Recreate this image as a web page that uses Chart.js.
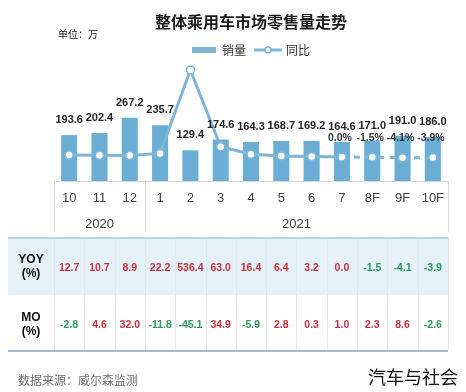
<!DOCTYPE html>
<html>
<head>
<meta charset="utf-8">
<script src="https://cdn.jsdelivr.net/npm/chart.js@4"></script>
<style>
  body { margin: 0; background: #fff; }
  #wrap { width: 466px; height: 392px; position: relative; }
</style>
</head>
<body>
<div id="wrap"><canvas id="myChart"></canvas></div>
<script>
// chart data
const months = ['10', '11', '12', '1', '2', '3', '4', '5', '6', '7', '8F', '9F', '10F'];
const sales = [193.6, 202.4, 267.2, 235.7, 129.4, 174.6, 164.3, 168.7, 169.2, 164.6, 171.0, 191.0, 186.0];
const yoy = [12.7, 10.7, 8.9, 22.2, 536.4, 63.0, 16.4, 6.4, 3.2, 0.0, -1.5, -4.1, -3.9];
const mom = [-2.8, 4.6, 32.0, -11.8, -45.1, 34.9, -5.9, 2.8, 0.3, 1.0, 2.3, 8.6, -2.6];
const yearLabels = ['2020', '2021'];
const yearFirst = [0, 3];
const yearLast = [2, 12];
const forecastFrom = 9; // line goes dashed after month 7
const pctLabelFrom = 9;

const barColor = '#6aaed6';
const lineColor = '#7db6d6';
const cjk = '"Noto Sans CJK SC", sans-serif';
const latin = '"Liberation Sans", Arial, sans-serif';

// small picture for the line legend item (line with a dot)
const lineIcon = document.createElement('canvas');
lineIcon.width = 28; lineIcon.height = 10;
(function () {
    const c = lineIcon.getContext('2d');
    c.strokeStyle = lineColor; c.lineWidth = 3;
    c.beginPath(); c.moveTo(0, 5); c.lineTo(28, 5); c.stroke();
    c.fillStyle = '#fff'; c.lineWidth = 1.5;
    c.beginPath(); c.arc(14, 5, 3, 0, Math.PI * 2); c.fill(); c.stroke();
})();

// keep the legend from eating too much height
const legendFit = {
    id: 'legendFit',
    afterInit(chart) {
        const fit = chart.legend.fit;
        chart.legend.fit = function () {
            fit.call(this);
            this.height = 24;
        };
    }
};

const extras = {
    id: 'extras',
    afterDraw(chart) {
        const ctx = chart.ctx;
        const x = chart.scales.x;
        const area = chart.chartArea;
        const step = x.getPixelForValue(1) - x.getPixelForValue(0);
        ctx.save();

        // title + unit
        ctx.textAlign = 'center';
        ctx.textBaseline = 'middle';
        ctx.fillStyle = '#1a1a1a';
        ctx.font = 'bold 16px ' + cjk;
        ctx.fillText('整体乘用车市场零售量走势', 251, 22);
        ctx.textAlign = 'left';
        ctx.font = '10px ' + cjk;
        ctx.fillText('单位：万', 58, 34);

        // bar value labels
        ctx.textAlign = 'center';
        ctx.font = 'bold 11px ' + latin;
        ctx.fillStyle = '#222';
        chart.getDatasetMeta(0).data.forEach((el, i) => {
            ctx.fillText(sales[i].toFixed(1), el.x, el.y - 15);
        });
        // yoy labels on the last points
        ctx.font = 'bold 10.5px ' + latin;
        ctx.fillStyle = '#333';
        chart.getDatasetMeta(1).data.forEach((el, i) => {
            if (i >= pctLabelFrom) ctx.fillText(yoy[i].toFixed(1) + '%', el.x - 2, 138);
        });

        // category axis box
        ctx.strokeStyle = '#d9d9d9';
        ctx.lineWidth = 1;
        ctx.beginPath();
        ctx.moveTo(area.left, area.bottom + 0.5);
        ctx.lineTo(area.right, area.bottom + 0.5);
        const bounds = [area.left, area.right];
        yearLast.forEach(i => bounds.push(x.getPixelForValue(i) + step / 2));
        bounds.forEach(b => {
            ctx.moveTo(Math.round(b) + 0.5, area.bottom);
            ctx.lineTo(Math.round(b) + 0.5, 232);
        });
        ctx.stroke();

        ctx.fillStyle = '#404040';
        ctx.font = '13px ' + latin;
        months.forEach((m, i) => ctx.fillText(m, x.getPixelForValue(i), 198));
        yearLabels.forEach((y, k) => {
            const cx = (x.getPixelForValue(yearFirst[k]) + x.getPixelForValue(yearLast[k])) / 2;
            ctx.fillText(y, cx, 224);
        });

        // data table
        const tLeft = 8;
        ctx.fillStyle = '#e4f1f8';
        ctx.fillRect(tLeft, 238, area.right - tLeft, 57);
        ctx.strokeStyle = '#e2e8ec';
        ctx.beginPath();
        ctx.moveTo(area.left + 0.5, 238);
        ctx.lineTo(area.left + 0.5, 350);
        months.forEach((m, i) => {
            const b = Math.round(x.getPixelForValue(i) + step / 2) + 0.5;
            ctx.moveTo(b, 238);
            ctx.lineTo(b, 350);
        });
        ctx.stroke();
        ctx.strokeStyle = '#b3d6e6';
        ctx.lineWidth = 2;
        ctx.beginPath();
        ctx.moveTo(tLeft, 238); ctx.lineTo(area.right, 238);
        ctx.stroke();
        ctx.strokeStyle = '#a3bccb';
        ctx.beginPath();
        ctx.moveTo(tLeft, 351); ctx.lineTo(area.right, 351);
        ctx.stroke();

        ctx.fillStyle = '#111';
        ctx.font = 'bold 12px ' + latin;
        const labelX = (tLeft + area.left) / 2;
        ctx.fillText('YOY', labelX, 260);
        ctx.fillText('(%)', labelX, 274);
        ctx.fillText('MO', labelX, 318);
        ctx.fillText('(%)', labelX, 332);

        ctx.font = 'bold 10.5px ' + latin;
        const rows = [[yoy, 268], [mom, 325]];
        rows.forEach(([vals, ty]) => {
            vals.forEach((v, i) => {
                ctx.fillStyle = v >= 0 ? '#c8303c' : '#2f9a5c';
                ctx.fillText(v.toFixed(1), x.getPixelForValue(i), ty);
            });
        });

        // footer
        ctx.textAlign = 'left';
        ctx.fillStyle = '#707070';
        ctx.font = '12px ' + cjk;
        ctx.fillText('数据来源：威尔森监测', 18, 380);
        ctx.fillStyle = '#111';
        ctx.font = '18px ' + cjk;
        ctx.fillText('汽车与社会', 368, 377);
        ctx.restore();
    }
};

var ctx = document.getElementById('myChart').getContext('2d');
var myChart = new Chart(ctx, {
    data: {
        labels: months,
        datasets: [
            {
                type: 'bar',
                label: '销量',
                data: sales,
                backgroundColor: barColor,
                barPercentage: 0.53,
                categoryPercentage: 1,
                yAxisID: 'y',
                order: 2
            },
            {
                type: 'line',
                label: '同比',
                data: yoy,
                borderColor: lineColor,
                backgroundColor: lineColor,
                borderWidth: 3,
                pointRadius: 4,
                pointBorderWidth: 1.5,
                pointBackgroundColor: '#fff',
                pointBorderColor: lineColor,
                tension: 0,
                yAxisID: 'y2',
                order: 1,
                segment: {
                    borderDash: c => c.p0DataIndex >= forecastFrom ? [6, 6] : undefined
                }
            }
        ]
    },
    options: {
        responsive: true,
        maintainAspectRatio: false,
        animation: false,
        layout: { padding: { top: 34, left: 54, right: 18, bottom: 211 } },
        plugins: {
            tooltip: { enabled: false },
            legend: {
                position: 'top',
                labels: {
                    usePointStyle: true,
                    pointStyleWidth: 24,
                    boxHeight: 6,
                    padding: 10,
                    color: '#333',
                    font: { size: 12, family: cjk },
                    generateLabels(chart) {
                        const items = Chart.defaults.plugins.legend.labels.generateLabels(chart);
                        items.sort((a, b) => a.datasetIndex - b.datasetIndex);
                        items.forEach(it => {
                            if (it.datasetIndex === 0) {
                                it.pointStyle = 'rect';
                                it.lineWidth = 0;
                                it.fillStyle = '#7fb3cf';
                            } else {
                                it.pointStyle = lineIcon;
                            }
                        });
                        return items;
                    }
                }
            }
        },
        scales: {
            x: { display: false },
            y: { display: false, min: 0, max: 519 },
            y2: { display: false, position: 'right', min: -148, max: 610 }
        }
    },
    plugins: [legendFit, extras]
});
</script>
</body>
</html>
